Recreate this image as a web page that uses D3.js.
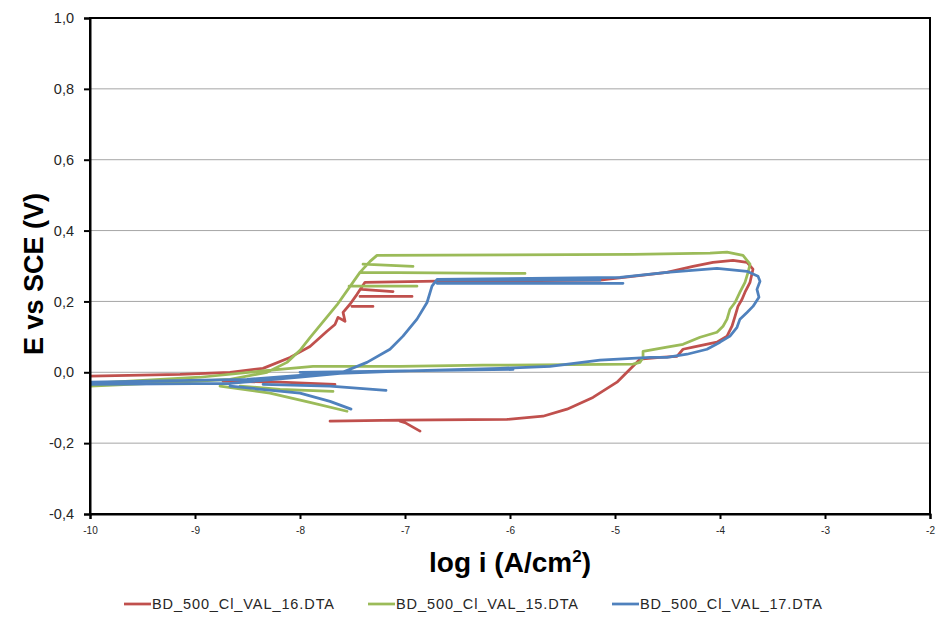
<!DOCTYPE html>
<html><head><meta charset="utf-8">
<script src="https://cdnjs.cloudflare.com/ajax/libs/d3/7.8.5/d3.min.js"></script>
<style>body{margin:0;background:#fff}svg{display:block}</style>
</head><body>
<svg id="c" width="938" height="617"></svg>
<script>
const seriesNames = ["BD_500_Cl_VAL_16.DTA","BD_500_Cl_VAL_15.DTA","BD_500_Cl_VAL_17.DTA"];
const seriesColors = ["#C0504D","#9BBB59","#4F81BD"];
const xTicks = [-10,-9,-8,-7,-6,-5,-4,-3,-2];
const yTicks = [-0.4,-0.2,0.0,0.2,0.4,0.6,0.8,1.0];

// BD_500_Cl_VAL_16 (null = break between branches)
const redX = [-10.00,-9.143,-8.667,-8.352,-8.095,-7.905,-7.743,-7.667,-7.638,-7.571,-7.590,-7.524,-7.457,-7.381,-6.695,-5.143,-4.505,-4.257,-4.067,-3.876,-3.743,-3.686,-3.714,-3.762,-3.790,-3.829,-3.857,-3.886,-3.933,-4.029,-4.257,-4.352,-4.410,-4.571,-4.762,-4.829,-4.981,-5.210,-5.457,-5.686,-6.029,-7.048,-7.714,
  null,-7.048,-7.000,-6.857,
  null,-7.410,-7.114,
  null,-7.429,-6.933,
  null,-7.505,-7.305,
  null,-8.733,-8.190,-7.667];
const redY = [-0.011,-0.006,0.000,0.011,0.042,0.073,0.116,0.135,0.155,0.144,0.169,0.192,0.220,0.254,0.257,0.260,0.282,0.299,0.310,0.316,0.310,0.291,0.254,0.226,0.206,0.186,0.158,0.130,0.102,0.085,0.071,0.065,0.045,0.042,0.037,0.017,-0.028,-0.071,-0.104,-0.124,-0.133,-0.135,-0.138,
  null,-0.138,-0.142,-0.166,
  null,0.234,0.228,
  null,0.214,0.214,
  null,0.186,0.186,
  null,-0.025,-0.028,-0.034];

// BD_500_Cl_VAL_15
const greenX = [-10.00,-9.143,-8.667,-8.314,-8.124,-8.000,-7.905,-7.648,-7.429,-7.333,-7.267,-4.829,-4.095,-3.933,-3.781,-3.714,-3.733,-3.762,-3.810,-3.857,-3.905,-3.933,-3.971,-4.029,-4.190,-4.352,-4.505,-4.733,-4.733,-4.762,-4.829,-6.257,-7.048,-7.876,-8.381,-8.952,-10.00,
  null,-7.400,-6.924,
  null,-7.429,-5.857,
  null,-7.533,-6.886,
  null,-8.571,-8.190,-7.686,
  null,-8.762,-8.286,-7.905,-7.552];
const greenY = [-0.039,-0.028,-0.020,0.000,0.028,0.062,0.098,0.190,0.282,0.313,0.330,0.333,0.336,0.339,0.330,0.305,0.282,0.254,0.226,0.197,0.178,0.150,0.130,0.113,0.099,0.079,0.071,0.059,0.042,0.028,0.023,0.020,0.017,0.017,0.003,-0.014,-0.031,
  null,0.305,0.299,
  null,0.282,0.279,
  null,0.243,0.243,
  null,-0.039,-0.048,-0.054,
  null,-0.039,-0.059,-0.085,-0.110];

// BD_500_Cl_VAL_17
const blueX = [-10.00,-8.667,-8.000,-7.619,-7.362,-7.143,-7.019,-6.886,-6.790,-6.743,-6.695,-4.952,-4.505,-4.029,-3.743,-3.638,-3.619,-3.648,-3.629,-3.686,-3.743,-3.810,-3.838,-3.905,-4.000,-4.124,-4.314,-4.505,-4.667,-5.143,-5.619,-6.095,-7.048,-7.876,-8.505,-10.00,
  null,-6.695,-4.924,
  null,-6.695,-5.143,
  null,-8.000,-5.971,
  null,-8.352,-7.714,-7.181,
  null,-8.667,-8.000,-7.714,-7.514];
const blueY = [-0.034,-0.031,-0.014,-0.003,0.028,0.065,0.102,0.150,0.197,0.243,0.262,0.268,0.282,0.293,0.285,0.271,0.257,0.234,0.212,0.186,0.169,0.150,0.127,0.102,0.085,0.065,0.051,0.042,0.042,0.034,0.017,0.011,0.003,-0.006,-0.020,-0.028,
  null,0.251,0.251,
  null,0.260,0.260,
  null,0.000,0.008,
  null,-0.034,-0.039,-0.051,
  null,-0.039,-0.059,-0.082,-0.104];

const series = [
  {name: seriesNames[0], color: seriesColors[0], xs: redX, ys: redY},
  {name: seriesNames[1], color: seriesColors[1], xs: greenX, ys: greenY},
  {name: seriesNames[2], color: seriesColors[2], xs: blueX, ys: blueY}
];

const svg = d3.select("#c");
const L = 90, R = 930, T = 18, B = 514;
const x = d3.scaleLinear().domain([-10,-2]).range([L,R]);
const y = d3.scaleLinear().domain([-0.4,1.0]).range([B,T]);
const FONT = "Liberation Sans, Arial, sans-serif";

// gridlines
svg.append("g").selectAll("line").data(yTicks.filter(v => v > -0.39 && v < 0.99)).join("line")
  .attr("x1", L).attr("x2", R).attr("y1", d => y(d)).attr("y2", d => y(d))
  .attr("stroke", "#A6A6A6").attr("stroke-width", 1);

// plot border
svg.append("rect").attr("x", L).attr("y", T).attr("width", R-L).attr("height", B-T)
  .attr("fill", "none").attr("stroke", "#000").attr("stroke-width", 2);

// series
svg.append("clipPath").attr("id","pc").append("rect").attr("x",L).attr("y",T).attr("width",R-L).attr("height",B-T);
const line = d3.line().defined(d => d[0] !== null && d[1] !== null).x(d => x(d[0])).y(d => y(d[1])).curve(d3.curveLinear);
const gS = svg.append("g").attr("clip-path","url(#pc)");
series.forEach(s => {
  const pts = s.xs.map((v,i) => [v, s.ys[i]]);
  gS.append("path").attr("d", line(pts)).attr("fill","none").attr("stroke", s.color)
    .attr("stroke-width", 2.75).attr("stroke-linejoin","round").attr("stroke-linecap","round");
});

// y axis
const yAxis = d3.axisLeft(y).tickValues(yTicks).tickSize(6).tickPadding(10)
  .tickFormat(d => d3.format(".1f")(d).replace(".", ",").replace("−","-"));
const gy = svg.append("g").attr("transform", `translate(${L},0)`).call(yAxis);
gy.select(".domain").attr("stroke","#000").attr("stroke-width",2);
gy.selectAll(".tick line").attr("stroke","#000").attr("stroke-width",2);
gy.selectAll("text").attr("font-family",FONT).attr("font-size",14.5).attr("fill","#262626");

// x axis
const xAxis = d3.axisBottom(x).tickValues(xTicks).tickSize(5).tickPadding(8)
  .tickFormat(d => String(d));
const gx = svg.append("g").attr("transform", `translate(0,${B})`).call(xAxis);
gx.select(".domain").attr("stroke","#000").attr("stroke-width",2);
gx.selectAll(".tick line").attr("stroke","#000").attr("stroke-width",2);
gx.selectAll("text").attr("font-family",FONT).attr("font-size",10).attr("fill","#262626");

// axis titles
svg.append("text").attr("transform", `translate(43,${(T+B)/2 + 8}) rotate(-90)`)
  .attr("text-anchor","middle").attr("font-family",FONT)
  .attr("font-weight","bold").attr("font-size",27).attr("fill","#000").text("E vs SCE (V)");
const xt = svg.append("text").attr("x", 510).attr("y", 572).attr("text-anchor","middle")
  .attr("font-family",FONT).attr("font-weight","bold")
  .attr("font-size",28).attr("fill","#000");
xt.append("tspan").text("log i (A/cm");
xt.append("tspan").attr("font-size",17).attr("dy",-10).text("2");
xt.append("tspan").attr("dy",10).text(")");

// legend
const legX = [124, 368, 612];
const gl = svg.append("g");
series.forEach((s,i) => {
  gl.append("line").attr("x1", legX[i]).attr("x2", legX[i]+27).attr("y1",604).attr("y2",604)
    .attr("stroke", s.color).attr("stroke-width",2.75);
  gl.append("text").attr("x", legX[i]+28).attr("y", 609).attr("font-family",FONT)
    .attr("font-size",14.5).attr("fill","#262626")
    .attr("textLength", 182).attr("lengthAdjust","spacing").text(s.name);
});
</script>
</body></html>
